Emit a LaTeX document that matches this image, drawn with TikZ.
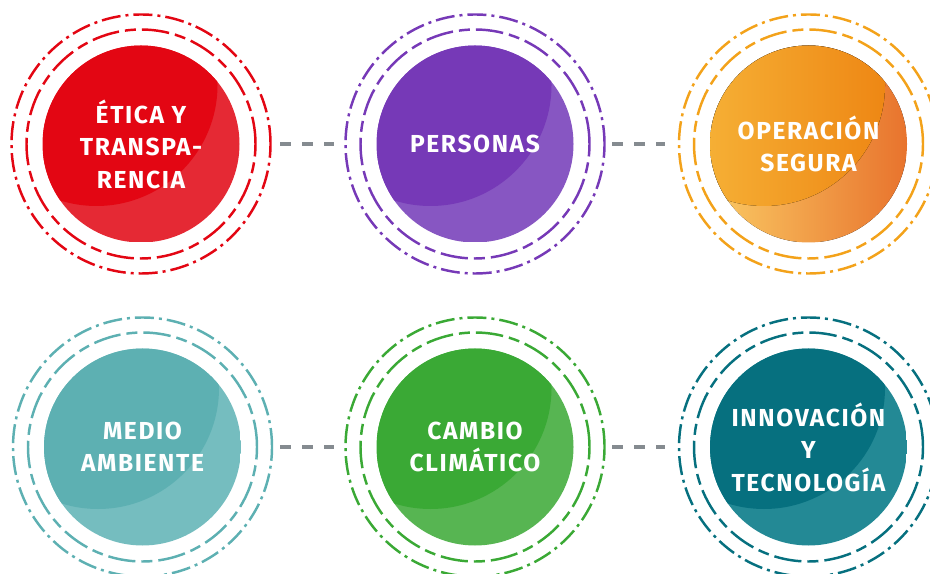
\documentclass[tikz,border=0pt]{standalone}
\usepackage{fontspec}
\setmainfont{Fira Sans}[LetterSpace=6.5]
\usetikzlibrary{calc}

\definecolor{rojo}{HTML}{E30613}
\definecolor{rojoc}{HTML}{E52934}
\definecolor{morado}{HTML}{7639B7}
\definecolor{moradoc}{HTML}{8756C2}
\definecolor{naranja}{HTML}{F3A21A}
\definecolor{turquesa}{HTML}{5DB0B2}
\definecolor{turquesac}{HTML}{75BDBF}
\definecolor{verde}{HTML}{3AA935}
\definecolor{verdec}{HTML}{57B552}
\definecolor{petroleo}{HTML}{06707F}
\definecolor{petroleoc}{HTML}{238995}
\definecolor{gris}{HTML}{858B90}

\tikzset{
  naranjao/.style={left color={rgb,255:red,248;green,190;blue,65}, middle color={rgb,255:red,245;green,167;blue,17}, right color={rgb,255:red,238;green,135;blue,20}},
  naranjal/.style={left color={rgb,255:red,250;green,202;blue,100}, middle color={rgb,255:red,246;green,180;blue,52}, right color={rgb,255:red,232;green,115;blue,45}},
  anillo/.style={line width=1.4pt, dash pattern=on 0.55cm off 0.12cm on 0.22cm off 0.12cm},
  anilloext/.style={circle, line width=1.4pt, dash pattern=on 0.38cm off 0.1cm on 0.06cm off 0.1cm, minimum size=5.18cm, inner sep=0pt, text=white, align=center, font=\bfseries\fontsize{14}{18.5}\selectfont},
  conector/.style={gris, line width=2.6pt, dash pattern=on 0.22cm off 0.22cm}
}

\begin{document}
\begin{tikzpicture}
   \useasboundingbox (0,0) rectangle (18.6,11.46);
   \clip (0,0) rectangle (18.6,11.46);
   % circulos de valores
   \foreach \n/\x/\y/\cd/\fo/\fl/\txt in {
      etica/2.82/8.58/rojo/rojo/rojoc/{ÉTICA Y\\TRANSPA-\\RENCIA},
      personas/9.5/8.58/morado/morado/moradoc/{PERSONAS},
      operacion/16.17/8.58/naranja/naranjao/naranjal/{OPERACIÓN\\SEGURA},
      medio/2.85/2.52/turquesa/turquesa/turquesac/{MEDIO\\AMBIENTE},
      cambio/9.5/2.52/verde/verde/verdec/{CAMBIO\\CLIMÁTICO},
      innovacion/16.17/2.52/petroleo/petroleo/petroleoc/{INNOVACIÓN\\Y\\TECNOLOGÍA}} {
      \begin{scope}
         \clip (\x,\y) circle (1.97);
         \fill[\fl] (\x-1.97,\y-1.97) rectangle (\x+1.97,\y+1.97);
         \fill[\fo] ($(\x,\y)+(-0.89,1.18)$) circle (2.42);
      \end{scope}
      \draw[\cd, anillo] (\x,\y) circle (2.29);
      \node[anilloext, draw=\cd] (\n) at (\x,\y) {\txt};
   }
   % lineas entre circulos
   \draw[conector] ([xshift=0.17cm]etica.east) -- ([xshift=-0.21cm]personas.west);
   \draw[conector] ([xshift=0.13cm]personas.east) -- ([xshift=-0.25cm]operacion.west);
   \draw[conector] ([xshift=0.14cm]medio.east) -- ([xshift=-0.21cm]cambio.west);
   \draw[conector] ([xshift=0.13cm]cambio.east) -- ([xshift=-0.25cm]innovacion.west);
\end{tikzpicture}
\end{document}
